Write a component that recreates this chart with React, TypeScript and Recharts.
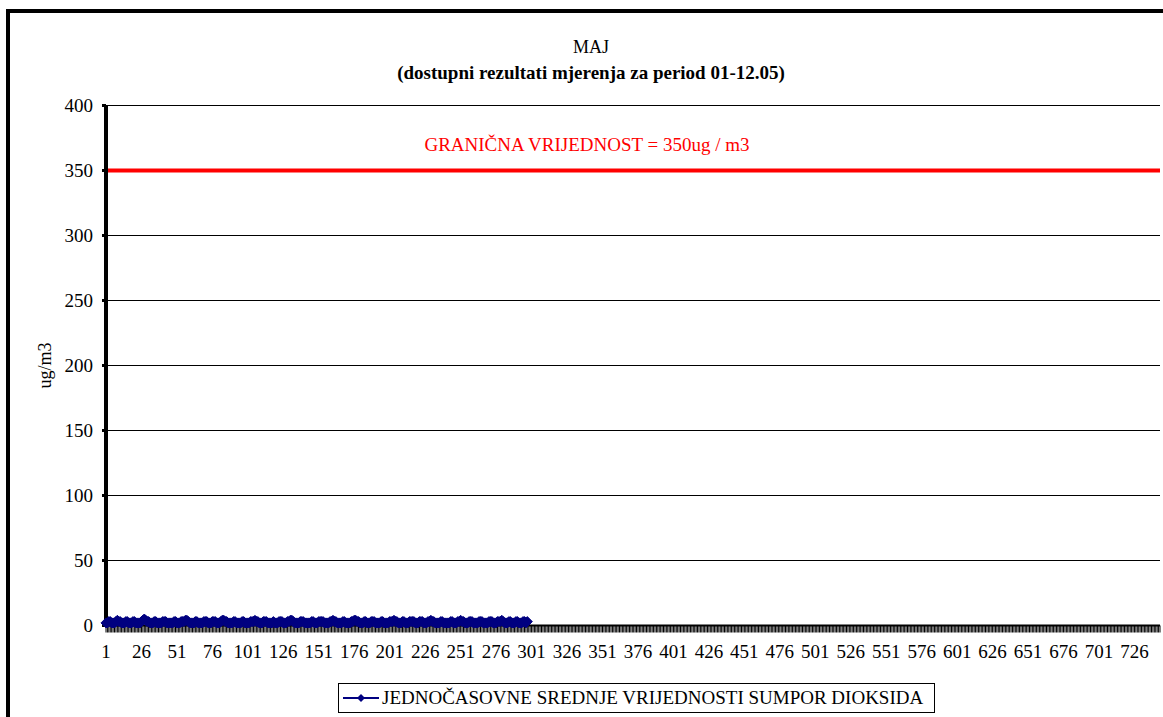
import React from 'react';
import {
  LineChart,
  Line,
  XAxis,
  YAxis,
  CartesianGrid,
  ReferenceLine,
} from 'recharts';

// hourly categories for May (31 days x 24h)
const HOURS: number[] = Array.from({ length: 744 }, (_, i) => i + 1);

const Y_TICKS = [0, 50, 100, 150, 200, 250, 300, 350, 400];

const LIMIT = 350;

// measured SO2 hourly means, 01-12.05 (+ a few hours)
const SO2: number[] = [
  2, 2, 3, 3, 2, 2, 2, 3, 4, 3, 3, 2, 2, 2, 3, 3, 2, 2, 2, 3, 3, 2, 2, 2,
  2, 3, 4, 5, 4, 3, 3, 2, 2, 2, 3, 3, 2, 2, 2, 2, 3, 3, 3, 2, 2, 2, 2, 2,
  3, 3, 2, 2, 2, 3, 3, 3, 4, 4, 3, 2, 2, 2, 2, 3, 3, 2, 2, 2, 2, 3, 3, 3,
  2, 2, 2, 3, 3, 3, 2, 2, 2, 3, 4, 4, 3, 3, 2, 2, 2, 2, 3, 3, 2, 2, 2, 2,
  3, 3, 2, 2, 2, 2, 3, 3, 3, 4, 3, 3, 2, 2, 2, 3, 3, 3, 2, 2, 2, 2, 3, 2,
  2, 2, 3, 3, 3, 2, 2, 2, 3, 3, 4, 4, 3, 2, 2, 2, 2, 3, 3, 3, 2, 2, 2, 2,
  2, 3, 3, 2, 2, 2, 3, 3, 3, 3, 2, 2, 2, 2, 3, 3, 4, 3, 3, 2, 2, 2, 2, 3,
  3, 2, 2, 2, 2, 3, 3, 4, 4, 3, 3, 2, 2, 2, 3, 3, 2, 2, 2, 3, 3, 3, 2, 2,
  2, 2, 3, 3, 2, 2, 2, 2, 3, 3, 3, 4, 3, 3, 2, 2, 2, 3, 3, 2, 2, 2, 3, 3,
  3, 3, 2, 2, 2, 3, 3, 3, 2, 2, 2, 3, 3, 4, 3, 3, 2, 2, 2, 2, 3, 3, 2, 2,
  2, 2, 2, 3, 3, 2, 2, 2, 3, 3, 4, 3, 3, 2, 2, 2, 3, 3, 3, 2, 2, 2, 2, 3,
  3, 3, 2, 2, 2, 2, 3, 3, 3, 2, 2, 2, 3, 3, 3, 4, 3, 2, 2, 2, 3, 3, 2, 2,
  2, 3, 3, 2, 2, 2, 3, 3, 2, 3,
];

const SERIES_NAME = 'JEDNOČASOVNE SREDNJE VRIJEDNOSTI SUMPOR DIOKSIDA';

const data = HOURS.map((h, i) => ({
  hour: h,
  so2: i < SO2.length ? SO2[i] : null,
}));

const FONT = '"Liberation Serif", Tinos, "Times New Roman", "DejaVu Serif", serif';
const NAVY = '#000080';

const Diamond = (props: any) => {
  const { cx, cy, index } = props;
  if (cx == null || cy == null) return <g key={`d-${index}`} />;
  const r = 5;
  return (
    <path
      key={`d-${index}`}
      d={`M${cx},${cy - r}L${cx + r},${cy}L${cx},${cy + r}L${cx - r},${cy}Z`}
      fill={NAVY}
      stroke={NAVY}
    />
  );
};

const HourTick = (props: any) => {
  const { x, y, payload, index } = props;
  if (index % 25 !== 0) return <g />;
  return (
    <text x={x} y={y} dy="0.71em" textAnchor="middle" fill="#000" fontSize={19} fontFamily={FONT}>
      {payload.value}
    </text>
  );
};

const YLabel = (props: any) => {
  const { viewBox } = props;
  const cy = viewBox.y + viewBox.height / 2;
  const cx = 35;
  return (
    <text
      x={cx}
      y={cy}
      transform={`rotate(-90, ${cx}, ${cy})`}
      textAnchor="middle"
      dominantBaseline="central"
      fontSize={18}
      fontFamily={FONT}
      fill="#000"
    >
      ug/m3
    </text>
  );
};

export default function App() {
  return (
    <div
      style={{
        position: 'fixed',
        left: 0,
        top: 0,
        width: 1163,
        height: 717,
        overflow: 'hidden',
        background: '#fff',
        fontFamily: FONT,
      }}
    >
      <div
        style={{
          position: 'absolute',
          left: 6,
          top: 9,
          width: 1200,
          height: 760,
          border: '4px solid #000',
        }}
      >
        <div style={{ position: 'absolute', left: 0, top: 24, width: 1162, textAlign: 'center', fontSize: 18, lineHeight: '20px' }}>
          MAJ
        </div>
        <div style={{ position: 'absolute', left: 0, top: 50, width: 1162, textAlign: 'center', fontSize: 19, lineHeight: '20px', fontWeight: 'bold' }}>
          (dostupni rezultati mjerenja za period 01-12.05)
        </div>

        <LineChart
          width={1170}
          height={700}
          data={data}
          margin={{ top: 92.5, right: 20, left: 0, bottom: 57.5 }}
        >
          <CartesianGrid vertical={false} stroke="#000" strokeWidth={1} />
          <XAxis
            dataKey="hour"
            interval={0}
            height={30}
            axisLine={{ stroke: '#000', strokeWidth: 2 }}
            tickLine={{ stroke: '#000', strokeWidth: 1 }}
            tickSize={7}
            tickMargin={12}
            tick={<HourTick />}
          />
          <YAxis
            width={96}
            domain={[0, 400]}
            ticks={Y_TICKS}
            interval={0}
            axisLine={{ stroke: '#000', strokeWidth: 4 }}
            tickLine={{ stroke: '#000', strokeWidth: 3 }}
            tickSize={4}
            tickMargin={9}
            tick={{ fill: '#000', fontSize: 19, fontFamily: FONT }}
            label={<YLabel />}
          />
          <ReferenceLine
            y={LIMIT}
            stroke="#ff0000"
            strokeWidth={4}
            label={{
              value: 'GRANIČNA VRIJEDNOST = 350ug / m3',
              position: 'top',
              fill: '#ff0000',
              fontSize: 19,
              fontFamily: FONT,
              offset: 20,
              dx: -46,
            }}
          />
          <Line
            type="linear"
            dataKey="so2"
            name={SERIES_NAME}
            stroke={NAVY}
            strokeWidth={3}
            dot={<Diamond />}
            isAnimationActive={false}
            connectNulls={false}
          />
        </LineChart>

        <div
          style={{
            position: 'absolute',
            left: 328,
            top: 670,
            width: 595,
            height: 28,
            border: '1px solid #000',
            display: 'flex',
            alignItems: 'center',
            fontSize: 19,
            whiteSpace: 'nowrap',
          }}
        >
          <svg width={38} height={12} style={{ marginLeft: 4, marginRight: 1 }}>
            <line x1={0} y1={6} x2={36} y2={6} stroke={NAVY} strokeWidth={2} />
            <path d="M18,2L22,6L18,10L14,6Z" fill={NAVY} />
          </svg>
          <span>{SERIES_NAME}</span>
        </div>
      </div>
    </div>
  );
}
